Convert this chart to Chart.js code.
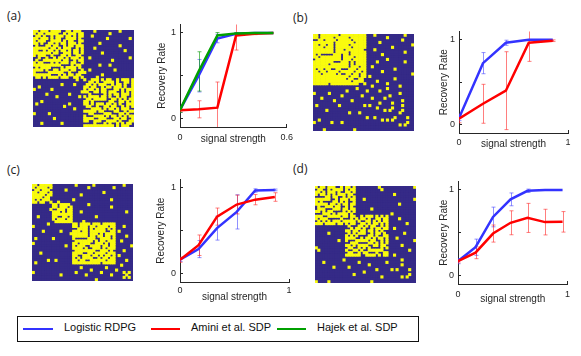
<!DOCTYPE html>
<html>
<head>
<meta charset="utf-8">
<script src="https://cdn.jsdelivr.net/npm/chart.js@4.4.0/dist/chart.umd.min.js"></script>
<style>
  body { margin: 0; background: #fff; }
  #fig { position: relative; width: 581px; height: 356px; overflow: hidden; font-family: 'Liberation Sans', Arial, sans-serif; }
  #fig canvas { position: absolute; }
  .tag { position: absolute; font: 12px 'Open Sans', sans-serif; line-height: 16px; color: #222; }
  .legend { position: absolute; left: 17px; top: 316px; width: 400px; height: 24px; border: 1px solid #111; }
  .legend .ln { position: absolute; top: 11px; height: 2px; }
  .legend .tx { position: absolute; top: 4px; font-size: 11px; line-height: 13px; color: #111; white-space: nowrap; }
</style>
</head>
<body>
<div id="fig">
  <div class="tag" style="left:7px;top:8px">(a)</div>
  <div class="tag" style="left:293px;top:10px">(b)</div>
  <div class="tag" style="left:7px;top:162px">(c)</div>
  <div class="tag" style="left:293px;top:161px">(d)</div>

  <canvas id="ma" width="109" height="105" style="left:29px;top:26px"></canvas>
  <canvas id="mb" width="109" height="105" style="left:309px;top:30px"></canvas>
  <canvas id="mc" width="109" height="105" style="left:28px;top:180px"></canvas>
  <canvas id="md" width="109" height="105" style="left:311px;top:182px"></canvas>

  <canvas id="la"></canvas>
  <canvas id="lb"></canvas>
  <canvas id="lc"></canvas>
  <canvas id="ld"></canvas>

  <div class="legend">
    <div class="ln" style="left:5px;width:30px;background:#3333ff"></div>
    <div class="tx" style="left:46px">Logistic RDPG</div>
    <div class="ln" style="left:133px;width:29px;background:#ff0000"></div>
    <div class="tx" style="left:173px">Amini et al. SDP</div>
    <div class="ln" style="left:259px;width:29px;background:#00a000"></div>
    <div class="tx" style="left:299px">Hajek et al. SDP</div>
  </div>
</div>

<script>
// ---------- adjacency matrices (40 nodes) ----------
// row i lists columns i..39 ('#' = edge); the lower half is the mirror image
const N = 40;
const aUpper = [
  '##.###.####..##.###.....#.........#.....',
  '.##.#####..#.###.##..........#.........',
  '#.#..#.###.##.#.##...#................',
  '###.#.##..####.#..........#........#.',
  '#..####.#.##..##....................',
  '.##.#.##.###.#.......#.............',
  '#.##..#.##.###..............#.....',
  '##.#.###..#.#....#...............',
  '.#.##.#.##.#................#...',
  '#..###.##.#.......#............',
  '.##.#..##.....................',
  '#.#.###.#..#...............#.',
  '##..#.##...........#........',
  '#.##..#....................',
  '.#.##.......#...#.........',
  '##.#.....................',
  '#..#..#.........#.......',
  '.###...................',
  '#........#............',
  '#.....#..............',
  '#..###.#.##..#.###.#',
  '.##.#..####.#..##.#',
  '#.#.###..#.##.#..#',
  '##..#.##.###.#..#',
  '.#.##...##.#.###',
  '#.##.###..#.#.#',
  '..#.#.##.###.#',
  '##.#..#.##..#',
  '#..##.#.#.##',
  '.##..##.#.#',
  '#.#.#..###',
  '##..#.#.#',
  '.#.###..',
  '#..#.##',
  '##.#..',
  '.#.##',
  '#..#',
  '.##',
  '#.',
  '.'
];
const bUpper = [
  '##.#######.##########...#...........#...',
  '#.#####.#####.######........#..........',
  '##.####.#####.#####..............#....',
  '#####.#######.####.....#.............',
  '#.##.#####.######..................#',
  '###.######.#####..........#........',
  '##.###.#######....#...............',
  '#.#####.######...............#...',
  '###.##.######......#............',
  '##.####.####...................',
  '#.###.#####........#..........',
  '###.#.####....#..........#...',
  '##.#.####...................',
  '#.###.##..#................',
  '###.###...........#.......',
  '#.##.#......#............',
  '##.##..................#',
  '#.##.#.................',
  '##............#.......',
  '#.....#..............',
  '#........#..........',
  '..#..........#.....',
  '.......#..........',
  '...#.............',
  '..........#.....',
  '.....#.........',
  '..#...........',
  '........#....',
  '...#........',
  '......#....',
  '.#........',
  '....#....',
  '..#.....',
  '.......',
  '...#..',
  '.....',
  '.#..',
  '...',
  '..',
  '.'
];
const cUpper = [
  '##.#####.........#......#...........#...',
  '.####.#..............#.........#.......',
  '#.###......#..........................',
  '###.#....................#...........',
  '#.##...........#....................',
  '##.................................',
  '#.........#..............#........',
  '#..#.............................',
  '##.####.......#.................',
  '#.###.#...............#........',
  '###.##........................',
  '.#.##...#.................#..',
  '####........................',
  '#.#.........#..............',
  '##........................',
  '#....#...................',
  '##.####.###.#####.......',
  '#.###.##.####.##...#...',
  '####.#.####.#.#.......',
  '.##.######..##.#.....',
  '##.###.#.####.......',
  '#.##.##.##.#....#..',
  '###..####.#.......',
  '#.#.##.###..#....',
  '.###.#.##.......',
  '##.##.##......#',
  '#.#.###.......',
  '###.#....#...',
  '#.###.......',
  '##.#.#.....',
  '.##.......',
  '##....#..',
  '#.......',
  '..#....',
  '......',
  '.....',
  '#.#.',
  '#..',
  '#.',
  '.'
];
const dUpper = [
  '#.##.###..#.##.#.........#.............#',
  '##..#.####.#.##..........#.............',
  '.#.###.#..##.#........................',
  '#.#.#.###.##................#........',
  '##.##..#.#.#........................',
  '#..#.###.##...#...................#',
  '.##.#.#..#........................',
  '#.#.##.##.................#......',
  '##..#.#.........................',
  '#.##.##......#.................',
  '.#.#.#........................',
  '##.#...............#.........',
  '#.##..#.###.#.#.#...........',
  '.#.#.##.#..##.##....#......',
  '##.#..##.#.#.##...........',
  '#..##.#.##.#.#.......#...',
  '.##.#.##..#.#...........',
  '#.#..#.##.##..#........',
  '##.##.#.#.............',
  '#..#.##.#.......#....',
  '.##.#..##...........',
  '#.#.##.#...#.......',
  '##..#.#..........#',
  '.#.#.#...........',
  '#.##......#.....',
  '.#.#...........',
  '#..........#..',
  '##...........',
  '#..#........',
  '...........',
  '....#.....',
  '.........',
  '..#.....',
  '.......',
  '...#..',
  '.....',
  '.#..',
  '...',
  '..',
  '.'
];

// ---------- recovery curves ----------
const aX = [0, 0.105, 0.21, 0.315, 0.42, 0.525];
const aBlue = [0.10, 0.50, 0.935, 0.99, 1.0, 1.0];
const aBlueErr = [0.03, 0.19, 0.05, 0.01, 0, 0];
const aRed = [0.095, 0.107, 0.126, 0.97, 0.99, 1.0];
const aRedErr = [0.02, 0.1, 0.3, 0.17, 0.01, 0];
const aGreen = [0.10, 0.55, 0.97, 0.995, 1.0, 1.0];
const aGreenErr = [0.03, 0.23, 0.035, 0.01, 0, 0];

const bX = [0, 0.22, 0.43, 0.64, 0.86];
const bBlue = [0.076, 0.725, 0.966, 1.0, 1.0];
const bBlueErr = [0.03, 0.125, 0.03, 0, 0];
const bRed = [0.07, 0.245, 0.40, 0.966, 0.99];
const bRedErr = [0.05, 0.23, 0.46, 0.22, 0.01];

const cX = [0, 0.17, 0.34, 0.52, 0.69, 0.87];
const cBlue = [0.16, 0.285, 0.53, 0.72, 0.97, 0.977];
const cBlueErr = [0.02, 0.1, 0.14, 0.2, 0.02, 0.01];
const cRed = [0.16, 0.33, 0.665, 0.806, 0.863, 0.894];
const cRedErr = [0.03, 0.12, 0.1, 0.11, 0.06, 0.05];

const dX = [0, 0.16, 0.32, 0.48, 0.635, 0.795, 0.955];
const dBlue = [0.167, 0.33, 0.684, 0.89, 0.99, 1.0, 1.0];
const dBlueErr = [0.03, 0.095, 0.115, 0.075, 0.02, 0, 0];
const dRed = [0.167, 0.266, 0.49, 0.616, 0.673, 0.624, 0.627];
const dRedErr = [0.02, 0.07, 0.1, 0.14, 0.17, 0.15, 0.12];

const yTicks = [0, 0.5, 1];

const BLUE = '#3333ff', RED = '#ff0000', GREEN = '#00a000';
const MAT_BLUE = '#352a87', MAT_YELLOW = '#f9fb0e';
const FONT = "'Liberation Sans', Arial, sans-serif";
const INK = '#262626';

/* ============================================
   Adjacency heatmaps
   ============================================ */
function matrixCells(upper) {
  const ones = [], zeros = [];
  for (let i = 0; i < N; i++) {
    for (let j = 0; j < N; j++) {
      const r = Math.min(i, j), c = Math.max(i, j);
      const on = (upper[r] || '')[c - r] === '#';
      (on ? ones : zeros).push({ x: j, y: i });
    }
  }
  return { ones, zeros };
}

// paints the plot area so antialiased cell seams don't show white
const matrixBackground = {
  id: 'matrixBackground',
  beforeDatasetsDraw(chart) {
    const { ctx, chartArea: a } = chart;
    ctx.save();
    ctx.fillStyle = MAT_BLUE;
    ctx.fillRect(a.left, a.top, a.width, a.height);
    ctx.restore();
  }
};

function drawMatrix(id, upper) {
  const cells = matrixCells(upper);
  const cellRadius = ctx => {
    const a = ctx.chart.chartArea;
    if (!a) return 2;
    return (Math.max(a.width, a.height) / N + 0.6) / Math.SQRT2;
  };
  const base = { pointStyle: 'rect', pointRadius: cellRadius, pointBorderWidth: 0, borderWidth: 0 };
  new Chart(document.getElementById(id), {
    type: 'scatter',
    data: {
      datasets: [
        { ...base, data: cells.ones, pointBackgroundColor: MAT_YELLOW, order: 0 },
        { ...base, data: cells.zeros, pointBackgroundColor: MAT_BLUE, order: 1 }
      ]
    },
    options: {
      responsive: false,
      animation: false,
      events: [],
      layout: { padding: 0 },
      plugins: { legend: { display: false }, tooltip: { enabled: false } },
      scales: {
        x: { type: 'linear', min: -0.5, max: N - 0.5, display: false },
        y: { type: 'linear', min: -0.5, max: N - 0.5, reverse: true, display: false }
      }
    },
    plugins: [matrixBackground]
  });
}

/* ============================================
   Recovery rate curves
   ============================================ */
const errorBars = {
  id: 'errorBars',
  beforeDatasetsDraw(chart) {
    const { ctx, chartArea: a, scales: { x, y } } = chart;
    ctx.save();
    ctx.beginPath();
    ctx.rect(a.left, a.top, a.width, a.height);
    ctx.clip();
    ctx.lineWidth = 1;
    chart.data.datasets.forEach(ds => {
      if (!ds.err) return;
      ctx.strokeStyle = ds.errColor;
      ds.data.forEach((p, i) => {
        const e = ds.err[i];
        if (!e) return;
        const px = Math.round(x.getPixelForValue(p.x)) + 0.5;
        const top = y.getPixelForValue(p.y + e);
        const bot = y.getPixelForValue(p.y - e);
        ctx.beginPath();
        ctx.moveTo(px, top); ctx.lineTo(px, bot);
        ctx.moveTo(px - 2, top); ctx.lineTo(px + 2, top);
        ctx.moveTo(px - 2, bot); ctx.lineTo(px + 2, bot);
        ctx.stroke();
      });
    });
    ctx.restore();
  }
};

const AXIS_W = 32, AXIS_H = 24, PAD_T = 10, PAD_R = 10, TICK_IN = 3;

function drawCurves(id, box, xs, xMax, series) {
  const el = document.getElementById(id);
  el.width = AXIS_W + (box.R - box.L) + PAD_R;
  el.height = PAD_T + (box.B - box.T) + AXIS_H;
  el.style.left = (box.L - AXIS_W) + 'px';
  el.style.top = (box.T - PAD_T) + 'px';

  // short tick marks pointing into the plot, as in the source figure
  const inwardGrid = { display: true, drawOnChartArea: false, drawTicks: true, tickLength: -TICK_IN, color: INK, lineWidth: 1 };

  new Chart(el, {
    type: 'line',
    data: {
      datasets: series.map(s => ({
        data: xs.map((x, i) => ({ x, y: s.ys[i] })),
        err: s.err,
        errColor: s.errColor,
        borderColor: s.color,
        borderWidth: 2.5,
        pointRadius: 0,
        tension: 0,
        fill: false,
        order: s.order
      }))
    },
    options: {
      responsive: false,
      animation: false,
      events: [],
      layout: { padding: { top: PAD_T, right: PAD_R, left: 0, bottom: 0 } },
      plugins: { legend: { display: false }, tooltip: { enabled: false } },
      scales: {
        x: {
          type: 'linear', min: 0, max: xMax,
          afterBuildTicks: s => { s.ticks = [{ value: 0 }, { value: xMax }]; },
          afterFit: s => { s.height = AXIS_H; },
          grid: inwardGrid,
          border: { display: true, color: INK, width: 1 },
          ticks: { padding: box.tickPad + TICK_IN, maxRotation: 0, color: INK, font: { family: FONT, size: 9 }, callback: v => String(v) },
          title: { display: true, text: 'signal strength', color: INK, font: { family: FONT, size: 10 }, padding: { top: 0, bottom: box.xTitlePad } }
        },
        y: {
          type: 'linear', min: -0.1, max: 1.1,
          afterBuildTicks: s => { s.ticks = yTicks.map(v => ({ value: v })); },
          afterFit: s => { s.width = AXIS_W; },
          grid: inwardGrid,
          border: { display: true, color: INK, width: 1 },
          ticks: { padding: 4 + TICK_IN, color: INK, font: { family: FONT, size: 9 }, callback: v => (v === 0 || v === 1 ? String(v) : '') },
          title: { display: true, text: 'Recovery Rate', color: INK, font: { family: FONT, size: 10 }, padding: { top: box.yTitlePad, bottom: 0 } }
        }
      }
    },
    plugins: [errorBars]
  });
}

drawMatrix('ma', aUpper);
drawMatrix('mb', bUpper);
drawMatrix('mc', cUpper);
drawMatrix('md', dUpper);

const blueS = (ys, err) => ({ ys, err, color: BLUE, errColor: 'rgba(70,70,255,0.6)', order: 2 });
const redS = (ys, err) => ({ ys, err, color: RED, errColor: 'rgba(255,40,40,0.6)', order: 1 });
const greenS = (ys, err) => ({ ys, err, color: GREEN, errColor: 'rgba(0,150,0,0.6)', order: 0 });

drawCurves('la', { L: 180, R: 291, T: 22, B: 127, yTitlePad: 8, xTitlePad: 5.5, tickPad: 5 }, aX, 0.6,
  [blueS(aBlue, aBlueErr), redS(aRed, aRedErr), greenS(aGreen, aGreenErr)]);
drawCurves('lb', { L: 459, R: 568, T: 29, B: 133, yTitlePad: 11, xTitlePad: 7, tickPad: 4 }, bX, 1,
  [blueS(bBlue, bBlueErr), redS(bRed, bRedErr)]);
drawCurves('lc', { L: 180, R: 289, T: 177, B: 282, yTitlePad: 7.7, xTitlePad: 2.5, tickPad: 3.5 }, cX, 1,
  [blueS(cBlue, cBlueErr), redS(cRed, cRedErr)]);
drawCurves('ld', { L: 458, R: 568, T: 179, B: 284, yTitlePad: 12, xTitlePad: 3, tickPad: 5 }, dX, 1,
  [blueS(dBlue, dBlueErr), redS(dRed, dRedErr)]);
</script>
</body>
</html>
